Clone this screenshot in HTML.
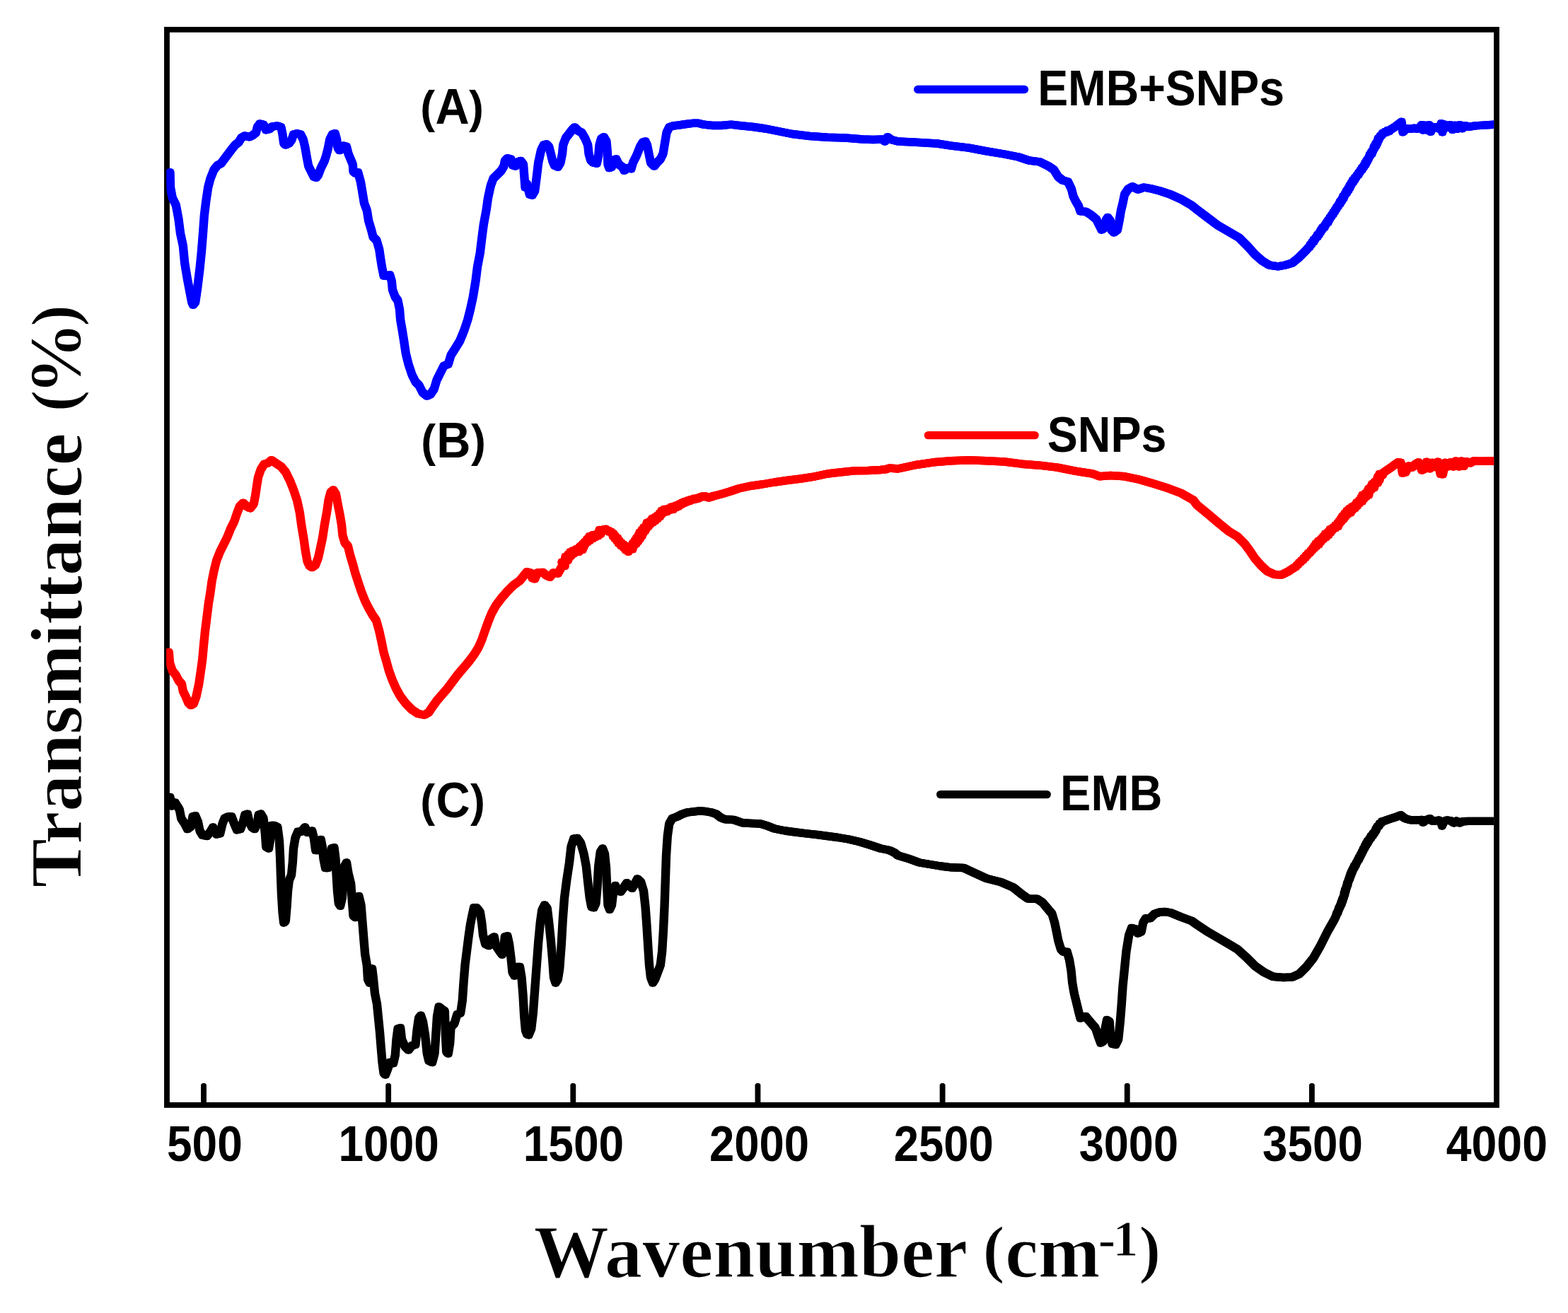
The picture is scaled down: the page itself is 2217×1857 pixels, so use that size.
<!DOCTYPE html>
<html lang="en"><head><meta charset="utf-8"><title>FTIR spectra</title>
<style>
html,body{margin:0;padding:0;background:#fff;}
body{width:2217px;height:1857px;overflow:hidden;}
svg{display:block;}
</style></head><body>
<svg width="2217" height="1857" viewBox="0 0 2217 1857" role="img" aria-label="FTIR spectra: transmittance versus wavenumber for EMB+SNPs, SNPs and EMB">
<rect x="0" y="0" width="2217" height="1857" fill="#fff"/>
<defs><clipPath id="plot"><rect x="235.47" y="41.90" width="1876.65" height="1521.00"/></clipPath></defs>
<g stroke="#000" fill="none">
<rect x="235.97" y="41.90" width="1880.08" height="1521.00" stroke-width="7.85"/>
</g>
<g fill="#000" stroke="none">
<path d="M284.07 1562.90 V1533.90 L286.07 1531.90 H289.93 L291.93 1533.90 V1562.90 Z"/>
<path d="M545.23 1562.90 V1533.90 L547.23 1531.90 H551.07 L553.07 1533.90 V1562.90 Z"/>
<path d="M806.38 1562.90 V1533.90 L808.38 1531.90 H812.22 L814.22 1533.90 V1562.90 Z"/>
<path d="M1067.52 1562.90 V1533.90 L1069.52 1531.90 H1073.37 L1075.37 1533.90 V1562.90 Z"/>
<path d="M1328.67 1562.90 V1533.90 L1330.67 1531.90 H1334.52 L1336.52 1533.90 V1562.90 Z"/>
<path d="M1589.83 1562.90 V1533.90 L1591.83 1531.90 H1595.67 L1597.67 1533.90 V1562.90 Z"/>
<path d="M1850.97 1562.90 V1533.90 L1852.97 1531.90 H1856.82 L1858.82 1533.90 V1562.90 Z"/>
</g>
<defs><path id="cA" d="M240.5 243.8 L241.0 265.0 L243.8 280.0 L248.8 290.0 L252.5 310.0 L255.0 330.0 L258.8 347.5 L261.2 372.5 L265.0 395.0 L268.8 415.0 L271.2 427.5 L273.0 431.2 L276.2 427.5 L278.8 410.0 L282.5 380.0 L285.0 355.0 L287.0 330.0 L288.8 305.0 L291.2 285.0 L294.2 265.0 L297.5 252.5 L302.5 240.0 L307.5 233.8 L312.5 231.2 L320.0 221.2 L327.5 211.2 L332.5 205.0 L337.5 201.2 L341.2 195.0 L346.2 192.0 L352.5 193.8 L357.5 191.2 L362.0 187.5 L363.8 180.0 L367.5 175.0 L372.5 176.2 L376.2 183.8 L381.2 182.5 L385.0 178.8 L392.5 178.0 L397.5 180.0 L399.5 190.0 L401.2 202.5 L403.8 205.0 L408.8 202.5 L412.5 197.5 L415.0 190.0 L420.0 188.8 L425.0 190.0 L428.8 197.5 L431.2 207.5 L433.8 222.5 L436.2 235.0 L440.0 242.5 L443.8 250.0 L447.0 251.2 L450.0 247.5 L453.8 237.5 L458.8 227.5 L461.2 220.0 L463.8 210.0 L466.2 197.5 L470.0 190.0 L473.8 188.8 L476.2 197.5 L477.5 208.8 L480.0 212.5 L483.8 211.2 L486.2 206.2 L490.0 207.5 L492.5 217.5 L496.2 226.2 L498.8 232.5 L499.5 242.5 L502.5 245.0 L506.2 243.8 L510.0 257.5 L512.5 272.5 L515.0 287.5 L518.8 297.5 L521.2 312.5 L525.0 325.0 L527.5 335.0 L532.5 340.0 L536.2 352.5 L538.0 365.0 L540.0 377.5 L542.5 390.0 L546.2 390.0 L551.2 388.8 L553.8 397.5 L555.0 410.0 L558.8 420.0 L562.5 425.0 L565.0 437.5 L566.2 452.5 L568.8 467.5 L571.2 482.5 L573.8 500.0 L577.5 515.0 L582.5 530.0 L587.5 540.0 L592.5 545.0 L597.5 555.0 L603.8 560.0 L608.8 557.5 L613.8 550.0 L617.5 537.5 L622.5 527.5 L627.5 517.5 L633.8 515.0 L637.5 502.5 L643.8 492.5 L650.0 482.5 L656.2 467.5 L661.2 452.5 L665.0 437.5 L668.8 420.0 L672.5 397.5 L675.0 377.5 L678.8 357.5 L681.2 337.5 L683.8 317.5 L687.5 297.5 L690.0 280.0 L693.8 262.5 L697.5 252.5 L703.8 246.2 L708.8 241.2 L712.5 235.0 L713.8 227.5 L717.5 223.8 L722.5 225.0 L725.0 233.8 L728.8 235.0 L732.5 228.8 L736.2 227.5 L740.0 232.5 L741.2 247.5 L742.5 265.0 L745.0 260.0 L748.8 275.0 L752.5 276.2 L756.2 270.0 L758.8 250.0 L761.2 230.0 L765.0 212.5 L768.8 205.0 L772.5 203.8 L776.2 207.5 L778.8 217.5 L781.2 227.5 L783.8 233.8 L788.8 236.2 L792.5 230.0 L795.0 217.5 L796.2 205.0 L800.0 195.0 L805.0 188.8 L808.8 183.8 L812.5 180.0 L817.5 185.0 L822.5 187.5 L827.5 196.2 L831.2 205.0 L832.5 217.5 L835.0 226.2 L838.8 230.0 L843.8 231.2 L846.2 220.0 L847.5 205.0 L850.0 196.2 L853.8 193.8 L857.5 200.0 L858.8 215.0 L859.5 232.5 L861.2 237.5 L865.0 236.2 L867.5 226.2 L871.2 225.0 L875.0 232.5 L880.0 236.2 L882.5 241.2 L887.5 237.5 L892.5 238.8 L895.0 230.0 L900.0 220.0 L905.0 207.5 L908.8 201.2 L912.5 200.0 L915.0 205.0 L917.5 217.5 L920.0 230.0 L925.0 235.0 L928.8 230.0 L933.8 225.0 L937.5 217.5 L940.0 202.5 L942.5 187.5 L946.2 180.0 L951.2 178.0 L960.0 177.0 L970.0 175.5 L981.2 174.2 L987.5 174.2 L995.0 176.2 L1007.5 177.5 L1020.0 177.5 L1033.8 176.2 L1045.0 177.5 L1065.0 179.5 L1082.5 182.0 L1100.0 185.5 L1120.0 189.5 L1145.0 192.5 L1170.0 194.2 L1195.0 195.0 L1220.0 197.0 L1235.0 197.5 L1247.5 197.0 L1251.2 200.0 L1255.0 193.8 L1260.0 197.5 L1269.8 200.0 L1295.0 201.2 L1325.0 203.0 L1345.0 206.2 L1370.0 209.2 L1395.0 213.8 L1420.0 218.0 L1440.0 222.0 L1455.0 227.0 L1470.0 228.8 L1482.5 235.0 L1490.0 240.0 L1496.2 250.0 L1502.5 255.0 L1510.0 257.0 L1515.0 267.5 L1517.5 277.5 L1521.2 285.0 L1525.0 291.2 L1527.5 298.8 L1535.0 299.2 L1542.5 303.8 L1550.0 310.0 L1553.8 317.5 L1557.5 325.0 L1561.2 322.5 L1563.8 311.2 L1566.2 307.5 L1570.0 312.5 L1571.2 325.0 L1575.0 328.8 L1580.0 325.0 L1582.5 312.5 L1585.0 297.5 L1587.5 287.5 L1590.0 275.0 L1595.0 267.5 L1601.2 263.8 L1608.8 268.0 L1617.5 265.0 L1627.5 266.8 L1640.0 270.0 L1655.0 275.0 L1670.0 281.8 L1685.0 290.5 L1692.0 296.2 L1707.0 307.5 L1722.0 318.8 L1737.0 327.5 L1752.0 336.2 L1764.5 348.8 L1774.5 360.0 L1784.5 368.8 L1794.5 375.0 L1807.0 376.8 L1817.0 375.0 L1827.0 372.0 L1837.0 363.8 L1847.0 353.8 L1848.4 352.0 L1849.9 350.2 L1851.9 348.9 L1852.3 346.3 L1854.7 345.2 L1855.1 342.6 L1857.6 341.7 L1857.6 339.0 L1859.8 338.1 L1860.5 335.9 L1862.7 334.9 L1862.7 332.3 L1865.2 331.4 L1865.5 329.0 L1867.5 327.9 L1867.6 325.3 L1869.9 324.4 L1870.0 321.8 L1872.8 321.2 L1873.0 318.7 L1874.8 317.4 L1875.2 315.1 L1877.8 314.3 L1877.8 311.5 L1879.9 310.3 L1880.2 307.8 L1882.3 306.5 L1882.8 304.1 L1885.0 302.9 L1885.2 300.3 L1887.4 299.0 L1887.8 296.6 L1889.8 295.3 L1890.0 292.8 L1892.2 291.5 L1892.6 289.2 L1894.8 288.0 L1894.7 285.2 L1897.1 284.2 L1897.2 281.6 L1899.6 280.5 L1899.2 277.6 L1901.5 276.4 L1901.7 274.0 L1904.1 272.8 L1903.8 270.0 L1906.5 269.0 L1906.3 266.3 L1908.7 265.2 L1908.4 262.4 L1910.7 261.2 L1910.7 258.6 L1913.3 257.6 L1913.0 254.8 L1915.6 254.0 L1915.7 251.4 L1917.9 250.3 L1918.4 248.0 L1920.8 247.1 L1920.9 244.5 L1923.0 243.3 L1923.4 240.9 L1925.8 240.0 L1925.8 237.3 L1928.2 236.4 L1928.5 233.9 L1930.7 232.7 L1930.4 230.1 L1932.8 228.9 L1932.7 226.4 L1934.9 225.1 L1935.1 222.7 L1936.8 221.1 L1936.8 218.6 L1939.5 217.6 L1939.0 214.9 L1941.3 213.6 L1941.4 211.2 L1943.4 209.8 L1942.9 207.2 L1945.5 206.1 L1945.0 203.5 L1947.4 202.3 L1947.2 199.8 L1949.2 198.4 L1948.7 195.8 L1951.1 194.6 L1951.5 192.2 L1953.9 191.2 L1954.5 188.7 L1957.2 188.1 L1958.2 186.4 L1960.6 186.9 L1961.8 184.5 L1964.3 185.5 L1965.8 183.5 L1967.6 182.4 L1969.4 181.2 L1971.2 180.1 L1973.0 179.0 L1981.7 172.3 L1983.4 186.9 L1988.6 181.7 L1994.3 182.3 L2000.0 181.1 L2003.4 182.3 L2006.9 180.6 L2010.3 176.6 L2012.0 184.0 L2014.9 177.1 L2017.1 184.0 L2020.6 176.6 L2022.9 186.3 L2026.3 179.4 L2028.6 180.6 L2032.0 179.4 L2035.4 182.3 L2037.7 174.6 L2039.4 186.9 L2042.3 176.0 L2045.7 180.6 L2050.3 176.6 L2053.7 183.4 L2057.1 177.1 L2060.6 182.3 L2064.0 176.6 L2067.4 181.7 L2072.0 177.7 L2076.6 179.4 L2085.7 177.9 L2097.1 177.1 L2112.0 176.2"/><path id="cB" d="M238.8 922.5 L240.0 937.5 L243.8 948.8 L248.8 955.0 L252.5 962.5 L257.0 967.5 L258.8 977.5 L262.5 985.0 L266.2 993.8 L270.0 997.5 L273.8 995.0 L277.5 985.0 L281.2 967.5 L283.8 950.0 L286.2 932.5 L288.0 912.5 L290.0 892.5 L292.5 872.5 L295.0 852.5 L297.5 837.5 L299.5 822.5 L302.5 807.5 L306.2 792.5 L311.2 780.0 L316.2 770.0 L321.2 760.0 L326.2 747.5 L331.2 737.5 L335.0 726.2 L338.8 716.2 L343.8 711.2 L348.8 716.2 L353.8 718.8 L358.8 712.5 L361.2 700.0 L363.0 687.5 L365.0 675.0 L368.8 663.8 L373.8 656.2 L378.8 655.0 L383.8 650.8 L390.0 655.0 L397.5 660.0 L403.8 667.5 L410.0 680.0 L415.0 692.5 L420.0 707.5 L423.8 725.0 L426.2 742.5 L429.5 762.5 L432.0 780.0 L434.5 793.8 L437.5 800.0 L441.2 802.5 L446.2 798.8 L450.0 788.8 L453.0 775.0 L456.2 760.0 L458.8 742.5 L462.0 725.0 L464.5 707.5 L467.5 696.2 L471.2 693.0 L475.0 698.8 L477.5 712.5 L480.5 727.5 L483.0 742.5 L484.5 757.5 L487.5 767.5 L492.0 772.5 L495.0 785.0 L498.8 797.5 L502.5 811.2 L507.0 825.0 L511.2 837.5 L516.2 850.0 L521.2 860.0 L526.2 868.8 L532.0 877.5 L536.2 892.5 L539.5 907.5 L542.5 922.5 L546.2 935.0 L550.0 948.8 L555.0 962.5 L560.0 973.8 L566.2 985.0 L573.8 995.0 L582.5 1003.8 L591.2 1009.5 L600.0 1011.2 L606.2 1007.5 L611.2 1000.0 L617.5 991.2 L625.0 982.5 L632.5 973.8 L640.0 963.8 L647.5 953.8 L655.0 945.0 L662.5 936.2 L670.0 926.2 L676.2 916.2 L681.2 905.0 L685.5 892.5 L690.0 880.0 L695.0 867.5 L701.2 856.2 L708.8 846.2 L717.5 836.2 L726.2 827.5 L735.0 821.2 L745.0 808.8 L750.0 810.0 L752.5 817.5 L756.2 818.8 L760.0 810.0 L767.5 809.5 L772.5 813.8 L777.5 816.2 L782.5 810.0 L788.8 811.2 L794.9 800.6 L798.8 800.3 L794.4 795.1 L799.4 795.4 L798.3 792.1 L803.2 792.3 L799.4 787.5 L805.1 788.2 L803.3 784.1 L807.7 786.0 L806.1 780.9 L810.9 783.2 L809.9 778.9 L813.8 781.3 L814.8 776.6 L818.5 780.4 L819.0 774.0 L823.8 777.4 L820.8 772.3 L825.6 773.4 L823.8 769.4 L827.5 769.5 L826.8 766.3 L830.8 766.7 L830.0 762.5 L834.2 764.2 L833.3 758.6 L838.4 761.6 L838.1 756.6 L841.8 759.4 L842.6 755.8 L845.9 757.7 L845.7 753.6 L849.6 755.0 L847.5 749.5 L851.6 751.1 L852.5 749.1 L854.8 748.6 L856.5 748.3 L857.8 750.5 L860.3 750.2 L861.6 752.4 L864.1 752.1 L865.5 754.1 L867.6 754.9 L866.7 758.3 L870.2 758.3 L869.4 761.6 L873.4 761.2 L872.2 764.8 L875.8 764.8 L874.7 768.3 L878.8 767.9 L878.0 771.7 L882.0 770.3 L881.7 774.4 L885.6 773.0 L884.7 777.9 L888.9 776.2 L888.6 780.3 L888.4 775.3 L894.5 776.6 L891.8 772.0 L896.2 772.3 L894.6 768.4 L899.6 769.0 L897.5 764.9 L902.5 765.5 L899.9 761.0 L905.0 761.8 L902.5 757.3 L907.7 758.2 L904.4 753.1 L909.5 754.0 L907.4 749.7 L912.3 750.7 L910.0 746.2 L914.4 747.0 L913.2 743.4 L917.3 744.0 L914.7 739.3 L920.1 740.8 L919.3 737.1 L923.3 738.8 L922.0 733.5 L926.8 736.2 L926.0 731.7 L930.1 733.3 L929.5 729.2 L933.3 730.4 L932.5 726.2 L936.0 727.0 L935.1 722.7 L939.1 724.1 L938.8 720.5 L942.9 723.7 L944.2 719.4 L947.2 721.3 L948.5 717.2 L951.8 720.5 L952.4 716.1 L955.7 717.8 L956.5 714.7 L959.6 716.1 L960.4 713.0 L963.2 713.7 L964.2 710.9 L966.9 711.8 L968.1 709.4 L970.7 710.0 L972.1 708.1 L974.8 708.8 L976.3 706.7 L978.7 707.2 L980.5 705.3 L983.0 706.2 L984.9 704.6 L987.3 705.2 L988.9 703.3 L991.1 703.4 L992.9 702.0 L995.2 702.3 L997.0 701.7 L998.7 703.0 L1000.7 702.9 L1002.4 704.0 L1004.3 702.8 L1006.4 702.9 L1008.0 701.5 L1010.1 701.6 L1012.0 700.8 L1014.0 700.2 L1016.0 699.8 L1018.0 699.2 L1020.0 698.8 L1032.5 695.0 L1045.0 690.8 L1060.0 687.5 L1077.5 685.0 L1095.0 682.0 L1112.5 679.5 L1132.5 677.0 L1152.5 673.8 L1170.0 670.0 L1187.5 668.0 L1207.5 665.8 L1227.5 665.5 L1245.0 664.5 L1252.5 663.8 L1257.5 662.0 L1269.8 663.0 L1295.0 657.5 L1320.0 653.8 L1345.0 651.8 L1370.0 650.8 L1395.0 651.8 L1420.0 653.0 L1445.0 656.2 L1470.0 658.2 L1495.0 661.2 L1520.0 666.2 L1545.0 670.0 L1555.0 673.8 L1570.0 672.5 L1590.0 673.8 L1610.0 678.0 L1630.0 683.8 L1650.0 690.0 L1670.0 697.5 L1687.5 707.5 L1692.0 713.8 L1707.0 726.2 L1722.0 738.8 L1737.0 751.2 L1749.5 758.8 L1759.5 768.8 L1767.0 778.8 L1774.5 790.0 L1783.2 800.0 L1792.0 808.0 L1802.0 812.5 L1812.0 813.0 L1822.0 808.0 L1824.0 806.6 L1826.0 805.3 L1828.0 804.0 L1830.0 802.6 L1832.2 801.6 L1833.5 799.4 L1835.6 798.2 L1836.7 796.0 L1839.0 794.9 L1840.1 792.7 L1842.6 791.9 L1843.3 789.2 L1845.9 788.5 L1846.5 785.7 L1849.0 784.9 L1849.7 782.3 L1852.4 781.7 L1853.0 779.3 L1855.3 778.4 L1855.7 775.9 L1858.2 775.3 L1858.1 772.3 L1861.5 772.4 L1860.6 768.8 L1865.0 769.7 L1863.9 765.2 L1867.8 765.8 L1867.7 762.3 L1871.2 762.5 L1870.8 758.8 L1875.0 759.7 L1873.8 755.1 L1878.5 756.5 L1877.7 752.3 L1881.6 752.9 L1880.6 748.6 L1884.3 749.3 L1884.6 746.3 L1888.2 746.9 L1887.9 743.3 L1891.9 744.5 L1891.0 740.1 L1894.2 740.3 L1893.4 737.1 L1896.9 737.1 L1895.8 733.7 L1899.9 734.1 L1898.0 730.1 L1902.3 730.7 L1901.2 726.3 L1905.5 727.3 L1904.2 722.6 L1909.9 725.0 L1907.7 719.5 L1912.4 721.2 L1911.5 716.8 L1916.0 718.6 L1915.4 714.5 L1919.1 715.4 L1918.1 710.9 L1922.1 711.7 L1921.5 708.2 L1926.1 709.0 L1924.1 704.3 L1928.7 705.2 L1926.4 700.1 L1931.7 702.4 L1930.3 698.0 L1935.3 700.0 L1933.1 694.9 L1936.7 695.3 L1934.9 691.4 L1939.3 692.1 L1938.1 688.5 L1943.1 689.7 L1939.9 684.7 L1944.4 685.5 L1943.6 681.6 L1948.1 683.0 L1946.7 678.4 L1950.7 678.5 L1947.9 674.7 L1952.3 674.0 L1950.3 670.5 L1955.1 671.5 L1956.0 668.5 L1958.0 667.1 L1960.0 665.7 L1966.9 661.1 L1971.4 657.7 L1977.1 653.7 L1980.6 654.3 L1982.9 669.1 L1987.4 668.0 L1992.0 658.9 L1996.6 661.1 L2001.1 656.6 L2005.7 653.7 L2010.3 665.1 L2013.7 663.4 L2017.1 653.1 L2021.7 662.9 L2025.1 654.3 L2028.6 660.6 L2033.1 653.1 L2036.6 670.3 L2040.0 670.9 L2043.4 654.3 L2046.9 660.0 L2051.4 653.7 L2054.9 660.0 L2058.3 652.0 L2062.9 660.0 L2066.3 652.0 L2069.7 659.4 L2073.1 652.6 L2078.9 654.9 L2083.4 652.0 L2091.4 652.2 L2112.0 652.0"/><path id="cC" d="M240.5 1127.5 L242.5 1140.0 L247.5 1135.0 L253.8 1145.0 L256.2 1157.5 L261.2 1165.0 L265.0 1172.5 L270.0 1168.8 L272.5 1155.0 L276.2 1153.8 L280.0 1162.5 L282.5 1175.0 L286.2 1181.2 L292.5 1182.5 L297.5 1176.2 L301.2 1170.0 L306.2 1180.0 L311.2 1178.8 L314.5 1165.0 L317.5 1157.5 L322.5 1155.0 L327.5 1155.0 L331.2 1165.0 L335.0 1173.8 L340.0 1172.5 L343.8 1162.5 L346.2 1152.5 L350.0 1151.2 L352.5 1162.5 L356.2 1170.0 L360.0 1172.5 L363.8 1165.0 L365.5 1152.5 L368.8 1151.2 L372.5 1157.5 L375.0 1180.0 L376.2 1197.5 L380.0 1200.0 L382.5 1185.0 L383.8 1167.5 L387.5 1167.5 L392.5 1170.0 L395.0 1190.0 L396.2 1215.0 L397.0 1240.0 L398.0 1265.0 L399.5 1290.0 L401.2 1305.0 L403.8 1302.5 L405.5 1282.5 L407.0 1260.0 L408.8 1245.0 L412.0 1237.5 L413.8 1220.0 L415.0 1200.0 L417.5 1185.0 L421.2 1176.2 L426.2 1176.2 L431.2 1170.0 L435.0 1177.5 L441.2 1175.0 L443.8 1185.0 L446.2 1202.5 L450.0 1202.5 L453.8 1187.5 L456.2 1200.0 L457.5 1215.0 L460.0 1227.5 L463.8 1227.5 L466.2 1215.0 L468.8 1200.0 L472.5 1198.8 L474.5 1215.0 L475.5 1235.0 L477.0 1260.0 L478.8 1277.5 L481.2 1281.2 L483.8 1270.0 L485.5 1250.0 L487.0 1225.0 L490.0 1220.0 L492.5 1235.0 L496.2 1250.0 L497.5 1270.0 L499.5 1295.0 L502.5 1297.5 L505.0 1277.5 L507.5 1267.5 L510.5 1280.0 L512.5 1305.0 L514.5 1330.0 L516.2 1350.0 L518.8 1365.0 L520.0 1385.0 L522.5 1390.0 L526.2 1370.0 L528.0 1385.0 L530.0 1405.0 L533.0 1420.0 L535.0 1440.0 L537.0 1460.0 L538.8 1482.5 L540.5 1502.5 L542.5 1517.5 L545.0 1520.0 L548.0 1512.5 L551.2 1502.5 L556.2 1503.8 L558.8 1492.5 L560.5 1470.0 L562.5 1455.0 L566.2 1453.8 L568.0 1470.0 L572.5 1480.0 L577.5 1485.0 L582.5 1478.8 L587.5 1477.5 L589.5 1457.5 L592.0 1440.0 L595.0 1436.2 L598.0 1445.0 L601.2 1465.0 L603.8 1490.0 L606.2 1500.0 L611.2 1502.5 L614.5 1490.0 L616.2 1465.0 L618.0 1437.5 L620.5 1423.8 L625.0 1427.5 L628.8 1430.0 L630.0 1465.0 L631.2 1487.5 L633.8 1490.0 L636.2 1475.0 L637.5 1452.5 L642.5 1447.5 L646.2 1435.0 L651.2 1432.5 L653.8 1415.0 L655.5 1390.0 L657.5 1365.0 L660.0 1345.0 L662.5 1325.0 L665.0 1307.5 L667.5 1295.0 L670.0 1283.8 L673.8 1283.8 L678.8 1290.0 L681.2 1305.0 L683.0 1322.5 L686.2 1335.0 L691.2 1337.5 L695.0 1327.5 L698.8 1325.0 L701.2 1337.5 L706.2 1345.0 L710.0 1350.0 L712.5 1337.5 L713.8 1325.0 L717.5 1323.8 L720.0 1335.0 L722.5 1355.0 L724.5 1375.0 L727.5 1380.0 L731.2 1367.5 L735.0 1367.5 L737.5 1382.5 L739.5 1407.5 L741.2 1437.5 L743.0 1457.5 L745.0 1462.5 L747.5 1463.8 L751.2 1455.0 L753.8 1432.5 L756.2 1400.0 L758.8 1365.0 L761.2 1332.5 L763.8 1305.0 L766.2 1287.5 L770.0 1280.0 L773.8 1285.0 L776.2 1305.0 L778.8 1330.0 L781.2 1357.5 L783.0 1382.5 L785.5 1390.0 L788.8 1385.0 L791.2 1370.0 L793.8 1335.0 L795.8 1300.0 L798.0 1270.0 L801.2 1245.0 L805.0 1220.0 L807.5 1197.5 L811.2 1186.2 L816.2 1185.5 L821.2 1192.5 L825.5 1207.5 L828.8 1225.0 L831.2 1247.5 L833.8 1270.0 L836.2 1282.5 L839.5 1283.8 L842.5 1277.5 L844.5 1255.0 L846.2 1225.0 L848.8 1205.0 L852.0 1200.0 L855.0 1207.5 L857.0 1227.5 L858.2 1255.0 L859.5 1280.0 L862.0 1286.2 L865.0 1280.0 L867.0 1262.5 L870.0 1252.5 L873.8 1260.0 L877.5 1261.2 L882.0 1255.0 L886.2 1248.8 L890.0 1252.5 L893.8 1256.2 L897.5 1250.0 L901.2 1243.0 L906.2 1247.5 L910.0 1260.0 L912.5 1282.5 L914.5 1310.0 L916.2 1337.5 L918.0 1365.0 L920.0 1382.5 L923.0 1390.0 L926.2 1385.0 L930.0 1375.0 L933.8 1365.0 L936.2 1345.0 L938.0 1315.0 L939.5 1282.5 L940.8 1245.0 L942.0 1210.0 L943.8 1182.5 L946.2 1165.0 L950.5 1157.5 L957.5 1155.0 L965.0 1151.2 L972.5 1148.8 L980.0 1148.0 L988.8 1147.0 L997.5 1147.5 L1005.0 1148.8 L1012.5 1151.2 L1018.8 1156.2 L1025.0 1158.8 L1037.5 1159.5 L1050.0 1163.8 L1062.5 1164.5 L1075.0 1165.0 L1085.0 1168.0 L1095.0 1172.0 L1110.0 1175.0 L1125.0 1177.0 L1140.0 1178.8 L1155.0 1180.5 L1170.0 1182.5 L1185.0 1184.5 L1200.0 1187.0 L1215.0 1190.5 L1230.0 1195.0 L1245.0 1200.0 L1257.5 1202.5 L1265.0 1206.2 L1269.8 1210.0 L1285.0 1214.5 L1300.0 1220.0 L1315.0 1222.5 L1330.0 1225.0 L1345.0 1226.8 L1362.5 1227.5 L1377.5 1234.5 L1395.0 1242.5 L1415.0 1247.5 L1432.5 1255.0 L1445.0 1265.0 L1453.8 1271.2 L1466.2 1271.2 L1473.8 1276.2 L1481.2 1285.0 L1487.5 1292.5 L1491.2 1305.0 L1493.8 1317.5 L1496.2 1330.0 L1500.0 1342.5 L1503.8 1346.2 L1508.8 1346.2 L1512.0 1357.5 L1514.5 1372.5 L1516.2 1390.0 L1518.8 1405.0 L1522.5 1420.0 L1525.5 1432.5 L1527.5 1440.0 L1535.0 1437.5 L1541.2 1445.0 L1548.8 1453.8 L1552.5 1465.0 L1556.2 1475.0 L1560.0 1472.5 L1562.5 1455.0 L1565.0 1442.5 L1568.8 1445.0 L1570.0 1465.0 L1572.5 1476.2 L1577.5 1477.5 L1581.2 1470.0 L1583.8 1445.0 L1585.8 1420.0 L1587.5 1395.0 L1590.0 1370.0 L1592.5 1345.0 L1596.2 1322.5 L1600.0 1312.5 L1605.0 1313.8 L1608.8 1320.0 L1613.8 1317.5 L1616.2 1305.0 L1620.0 1298.8 L1626.2 1298.8 L1632.5 1292.5 L1640.0 1290.0 L1647.5 1289.5 L1656.2 1291.2 L1670.0 1297.0 L1685.0 1302.5 L1692.0 1307.5 L1707.0 1317.5 L1722.0 1326.2 L1737.0 1335.0 L1749.5 1342.5 L1762.0 1353.8 L1774.5 1366.2 L1787.0 1375.0 L1799.5 1381.2 L1814.5 1382.5 L1827.0 1382.0 L1837.0 1377.5 L1847.0 1367.5 L1857.0 1355.0 L1867.0 1337.5 L1877.0 1317.5 L1887.0 1300.0 L1887.8 1298.1 L1888.7 1296.1 L1889.5 1294.2 L1889.8 1292.0 L1891.7 1290.5 L1891.7 1288.2 L1893.1 1286.5 L1893.0 1284.2 L1894.9 1282.7 L1894.9 1280.2 L1896.8 1278.5 L1896.4 1275.8 L1898.4 1274.1 L1898.0 1271.5 L1899.9 1269.8 L1899.8 1267.3 L1901.3 1265.3 L1900.7 1262.6 L1902.6 1260.7 L1902.0 1258.1 L1903.9 1256.2 L1903.7 1253.6 L1905.4 1251.6 L1904.9 1249.0 L1906.6 1247.0 L1906.6 1244.5 L1908.4 1242.8 L1908.0 1240.3 L1909.9 1238.7 L1909.4 1236.1 L1911.5 1234.5 L1911.1 1232.1 L1913.1 1230.8 L1913.0 1228.5 L1915.0 1227.2 L1914.7 1224.8 L1917.1 1223.4 L1917.3 1220.9 L1918.9 1219.1 L1919.4 1216.8 L1921.5 1215.3 L1921.4 1212.7 L1923.4 1211.4 L1923.5 1208.9 L1925.3 1207.5 L1925.5 1205.1 L1927.3 1203.6 L1927.4 1201.1 L1929.5 1199.7 L1929.4 1197.1 L1931.7 1195.7 L1931.5 1193.2 L1933.9 1192.1 L1933.7 1189.5 L1936.0 1188.4 L1936.3 1186.1 L1938.5 1185.0 L1938.5 1182.4 L1941.0 1181.6 L1941.2 1179.1 L1943.5 1178.1 L1943.9 1175.8 L1945.7 1174.6 L1945.4 1172.3 L1947.2 1171.0 L1947.4 1169.0 L1949.9 1167.9 L1950.4 1165.1 L1952.9 1164.2 L1953.8 1161.8 L1956.2 1161.5 L1958.1 1160.8 L1960.0 1160.0 L1966.9 1157.7 L1971.4 1156.3 L1977.1 1154.3 L1980.6 1152.8 L1985.1 1156.6 L1988.6 1158.3 L1994.3 1159.8 L2005.7 1159.9 L2010.3 1159.4 L2012.0 1163.1 L2016.0 1160.0 L2021.7 1157.7 L2025.1 1161.1 L2028.6 1161.1 L2034.3 1160.0 L2037.1 1161.7 L2038.9 1168.0 L2041.7 1161.7 L2045.7 1160.0 L2051.4 1160.9 L2056.0 1163.9 L2059.4 1161.1 L2064.0 1163.9 L2068.6 1161.7 L2076.6 1161.4 L2112.0 1161.4"/></defs>
<g clip-path="url(#plot)" fill="none" stroke-linejoin="round" stroke-linecap="round">
<g stroke="#0000ff">
<use href="#cA" transform="translate(-0.50 0)" stroke-width="11.40"/>
<use href="#cA" transform="translate(0.50 0)" stroke-width="11.40"/>
<use href="#cA" transform="translate(2.85 2.85)" stroke-width="4.56"/>
<use href="#cA" transform="translate(2.85 -2.85)" stroke-width="4.56"/>
<use href="#cA" transform="translate(-2.85 2.85)" stroke-width="4.56"/>
<use href="#cA" transform="translate(-2.85 -2.85)" stroke-width="4.56"/>
</g>
<g stroke="#ff0000">
<use href="#cB" transform="translate(-0.50 0)" stroke-width="11.40"/>
<use href="#cB" transform="translate(0.50 0)" stroke-width="11.40"/>
<use href="#cB" transform="translate(2.85 2.85)" stroke-width="4.56"/>
<use href="#cB" transform="translate(2.85 -2.85)" stroke-width="4.56"/>
<use href="#cB" transform="translate(-2.85 2.85)" stroke-width="4.56"/>
<use href="#cB" transform="translate(-2.85 -2.85)" stroke-width="4.56"/>
</g>
<g stroke="#000000">
<use href="#cC" transform="translate(-0.50 0)" stroke-width="11.40"/>
<use href="#cC" transform="translate(0.50 0)" stroke-width="11.40"/>
<use href="#cC" transform="translate(2.85 2.85)" stroke-width="4.56"/>
<use href="#cC" transform="translate(2.85 -2.85)" stroke-width="4.56"/>
<use href="#cC" transform="translate(-2.85 2.85)" stroke-width="4.56"/>
<use href="#cC" transform="translate(-2.85 -2.85)" stroke-width="4.56"/>
</g>
</g>
<g font-family="'Liberation Sans', Arial, Helvetica, sans-serif" font-weight="700" fill="#000">
<text transform="translate(235.98 1642.10) scale(0.9606 1.0430)" font-size="66.7">500</text>
<text transform="translate(478.52 1642.10) scale(0.9593 1.0430)" font-size="66.7">1000</text>
<text transform="translate(739.72 1642.10) scale(0.9607 1.0430)" font-size="66.7">1500</text>
<text transform="translate(1003.06 1642.10) scale(0.9508 1.0430)" font-size="66.7">2000</text>
<text transform="translate(1263.86 1642.10) scale(0.9501 1.0430)" font-size="66.7">2500</text>
<text transform="translate(1525.68 1642.10) scale(0.9458 1.0430)" font-size="66.7">3000</text>
<text transform="translate(1785.07 1642.10) scale(0.9556 1.0430)" font-size="66.7">3500</text>
<text transform="translate(2044.63 1642.10) scale(0.9668 1.0430)" font-size="66.7">4000</text>
<text transform="translate(1467.16 149.30) scale(0.9655 1.0430)" font-size="66.7">EMB+SNPs</text>
<text transform="translate(1480.76 638.60) scale(0.9676 1.0430)" font-size="66.7">SNPs</text>
<text transform="translate(1499.12 1146.20) scale(0.9734 1.0430)" font-size="66.7">EMB</text>
<text transform="translate(0 174.95) scale(1 1.0430)" font-size="66.7"><tspan x="594.23" y="-0.7" font-size="62.7">(</tspan><tspan x="615.55" y="0">A</tspan><tspan x="662.95" y="-0.7" font-size="62.7">)</tspan></text>
<text transform="translate(0 646.90) scale(1 1.0430)" font-size="66.7"><tspan x="595.18" y="-0.7" font-size="62.7">(</tspan><tspan x="617.23" y="0">B</tspan><tspan x="665.95" y="-0.7" font-size="62.7">)</tspan></text>
<text transform="translate(0 1156.20) scale(1 1.0430)" font-size="66.7"><tspan x="594.23" y="-0.7" font-size="62.7">(</tspan><tspan x="616.50" y="0">C</tspan><tspan x="665.05" y="-0.7" font-size="62.7">)</tspan></text>
</g>
<g fill="none" stroke-linecap="round" stroke-width="11.4">
<path d="M1297.7 126.5 H1448.4" stroke="#0000ff"/>
<path d="M1312.4 615.6 H1463.1" stroke="#ff0000"/>
<path d="M1329.7 1123.6 H1480.2" stroke="#000"/>
</g>
<g font-family="'Liberation Serif', 'Times New Roman', serif" font-weight="700" fill="#000" stroke="#fff" stroke-width="1.2">
<text font-size="105" y="1806.4"><tspan x="754.8" textLength="611.5" lengthAdjust="spacingAndGlyphs">Wavenumber</tspan><tspan> </tspan><tspan x="1389.8" y="1797.2" font-size="91.7">(</tspan><tspan x="1421.3" y="1806.4">cm</tspan><tspan x="1552.5" y="1777.3" font-size="75">-</tspan><tspan x="1573.4" y="1775.7" font-size="72">1</tspan><tspan x="1610.4" y="1797.2" font-size="91.7">)</tspan></text>
<text transform="translate(115 1253.75) rotate(-90)" font-size="103.65" y="0"><tspan x="-1.55">Transmittance</tspan><tspan> </tspan><tspan x="671.5" y="-8.5" font-size="92">(</tspan><tspan x="695.4" y="-0.9" font-size="103">%</tspan><tspan x="792" y="-8.5" font-size="92">)</tspan></text>
</g>
</svg>
</body></html>
